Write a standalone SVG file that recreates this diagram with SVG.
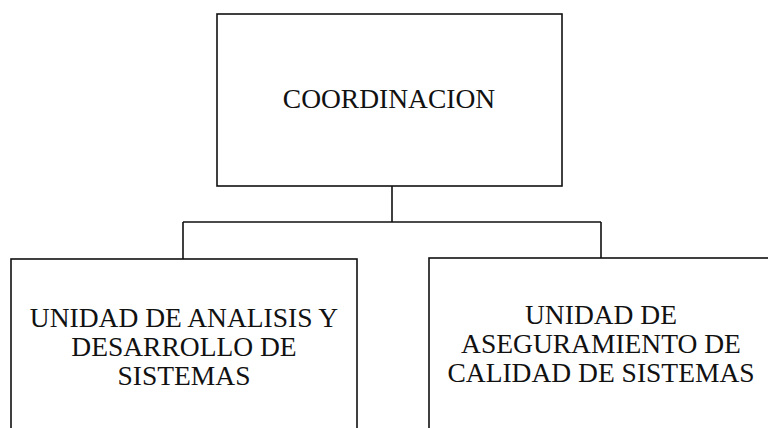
<svg xmlns="http://www.w3.org/2000/svg" width="768" height="428" viewBox="0 0 768 428">
<style>
.box{fill:#fff;stroke:#111;stroke-width:1.6}
.conn{fill:none;stroke:#111;stroke-width:1.6}
text{font-family:"Liberation Serif","Times New Roman",serif;font-size:27.5px;fill:#111;text-anchor:middle}
</style>
<rect width="768" height="428" fill="#fff"/>
<g id="connectors">
<path class="conn" d="M392,186 V222 M183,222 H601 M183,222 V259 M601,222 V258"/>
</g>
<g id="coordinacion">
<rect class="box" x="217" y="14" width="345" height="172"/>
<text x="389" y="108">COORDINACION</text>
</g>
<g id="unidad-analisis">
<rect class="box" x="11" y="259" width="346" height="200"/>
<text x="184" y="327">UNIDAD DE ANALISIS Y</text>
<text x="184" y="356">DESARROLLO DE</text>
<text x="184" y="385">SISTEMAS</text>
</g>
<g id="unidad-aseguramiento">
<rect class="box" x="429" y="258" width="360" height="200"/>
<text x="601" y="324">UNIDAD DE</text>
<text x="601" y="353">ASEGURAMIENTO DE</text>
<text x="601" y="382">CALIDAD DE SISTEMAS</text>
</g>
</svg>
